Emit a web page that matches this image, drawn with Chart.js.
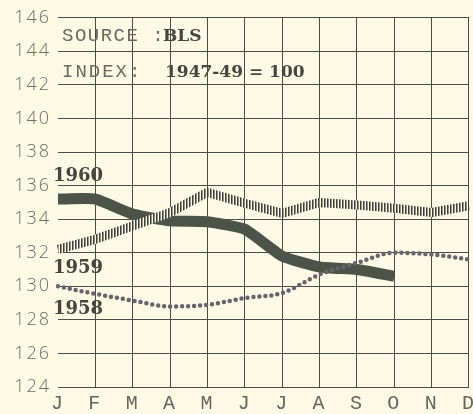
<!DOCTYPE html>
<html>
<head>
<meta charset="utf-8">
<script src="https://cdn.jsdelivr.net/npm/chart.js@4/dist/chart.umd.min.js"></script>
<style>
  html, body { margin: 0; padding: 0; overflow: hidden; background: #fcf9e4; }
  #wrap { position: relative; width: 480px; height: 414px; }
</style>
</head>
<body>
<div id="wrap"><canvas id="c"></canvas></div>
<script>
// Consumer price index by month (1947-49 = 100)
const months = ['J', 'F', 'M', 'A', 'M', 'J', 'J', 'A', 'S', 'O', 'N', 'D'];
const cpi1958 = [130.0, 129.55, 129.15, 128.8, 128.9, 129.3, 129.6, 130.7, 131.4, 132.0, 131.9, 131.6];
const cpi1959 = [132.2, 132.8, 133.6, 134.4, 135.6, 134.95, 134.35, 135.0, 134.85, 134.65, 134.4, 134.8];
const cpi1960 = [135.2, 135.2, 134.3, 133.9, 133.85, 133.4, 131.8, 131.15, 131.0, 130.6, null, null];
const yTickValues = [124, 126, 128, 130, 132, 134, 136, 138, 140, 142, 144, 146];

const ink = '#4d4d47';
const cream = '#fcf9e4';

// vertical hatching used for the 1959 line
function hatchPattern(ctx) {
  const p = document.createElement('canvas');
  p.width = 3; p.height = 3;
  const g = p.getContext('2d');
  g.fillStyle = cream; g.fillRect(0, 0, 3, 3);
  g.fillStyle = '#3e3e3a'; g.fillRect(0, 0, 1, 3);
  g.fillStyle = 'rgba(62,62,58,0.55)'; g.fillRect(1, 0, 1, 3);
  return ctx.createPattern(p, 'repeat');
}

const canvas = document.getElementById('c');
const ctx2d = canvas.getContext('2d');

// wider letter spacing for the axis figures
const spacingPlugin = {
  id: 'spacing',
  beforeDraw(chart) { chart.ctx.letterSpacing = '2px'; },
  beforeDatasetsDraw(chart) { chart.ctx.letterSpacing = '0px'; }
};

// headings and year labels
const notesPlugin = {
  id: 'notes',
  afterDraw(chart) {
    const c = chart.ctx;
    const y = chart.scales.y;
    const left = chart.chartArea.left;
    c.save();
    c.textBaseline = 'alphabetic';
    c.textAlign = 'left';
    c.fillStyle = '#6a6a62';
    c.font = '19px "Liberation Mono"';
    c.letterSpacing = '1.5px';
    c.fillText('SOURCE :', left + 4, y.getPixelForValue(144.6));
    c.letterSpacing = '2px';
    c.fillText('INDEX:', left + 4, y.getPixelForValue(142.5));
    c.letterSpacing = '0px';
    c.fillStyle = '#46463f';
    c.font = 'bold 17px "DejaVu Serif"';
    c.fillText('BLS', left + 105, y.getPixelForValue(144.6));
    c.fillText('1947-49 = 100', left + 107, y.getPixelForValue(142.5));
    c.font = 'bold 18px "DejaVu Serif"';
    c.fillText('1960', left - 5, y.getPixelForValue(136.25));
    c.fillText('1959', left - 5, y.getPixelForValue(130.8));
    c.fillText('1958', left - 5, y.getPixelForValue(128.35));
    c.restore();
  }
};

new Chart(canvas, {
  type: 'line',
  data: {
    labels: months,
    datasets: [
      {
        label: '1958',
        data: cpi1958,
        borderColor: '#67646c',
        borderWidth: 4.5,
        borderCapStyle: 'round',
        borderDash: [0, 6],
        tension: 0.35,
        cubicInterpolationMode: 'monotone',
        pointRadius: 0,
        fill: false
      },
      {
        label: '1959',
        data: cpi1959,
        borderColor: hatchPattern(ctx2d),
        borderWidth: 9,
        borderJoinStyle: 'bevel',
        tension: 0,
        pointRadius: 0,
        fill: false
      },
      {
        label: '1960',
        data: cpi1960,
        borderColor: '#4c5349',
        borderWidth: 11,
        borderJoinStyle: 'round',
        tension: 0.15,
        pointRadius: 0,
        fill: false,
        spanGaps: false
      }
    ]
  },
  options: {
    responsive: true,
    maintainAspectRatio: false,
    animation: false,
    events: [],
    layout: { padding: { left: 0, right: 6, top: 15, bottom: 0 } },
    plugins: {
      legend: { display: false },
      tooltip: { enabled: false }
    },
    scales: {
      x: {
        offset: false,
        border: { display: false },
        grid: {
          drawTicks: false,
          lineWidth: 1,
          color: (c) => c.index === 0 ? 'rgba(0,0,0,0)' : ink
        },
        ticks: {
          color: '#66665e',
          font: { family: 'Liberation Mono', size: 20 },
          padding: 5,
          maxRotation: 0,
          autoSkip: false
        },
        afterFit(scale) { scale.height = 27; }
      },
      y: {
        min: 124,
        max: 146,
        border: { display: false },
        afterBuildTicks(scale) { scale.ticks = yTickValues.map(v => ({ value: v })); },
        grid: { drawTicks: false, lineWidth: 1, color: ink },
        ticks: {
          color: '#6e6e66',
          font: { family: 'Open Sans', size: 18, weight: 300 },
          padding: 7
        },
        afterFit(scale) { scale.width = 58; }
      }
    }
  },
  plugins: [spacingPlugin, notesPlugin]
});
</script>
</body>
</html>
